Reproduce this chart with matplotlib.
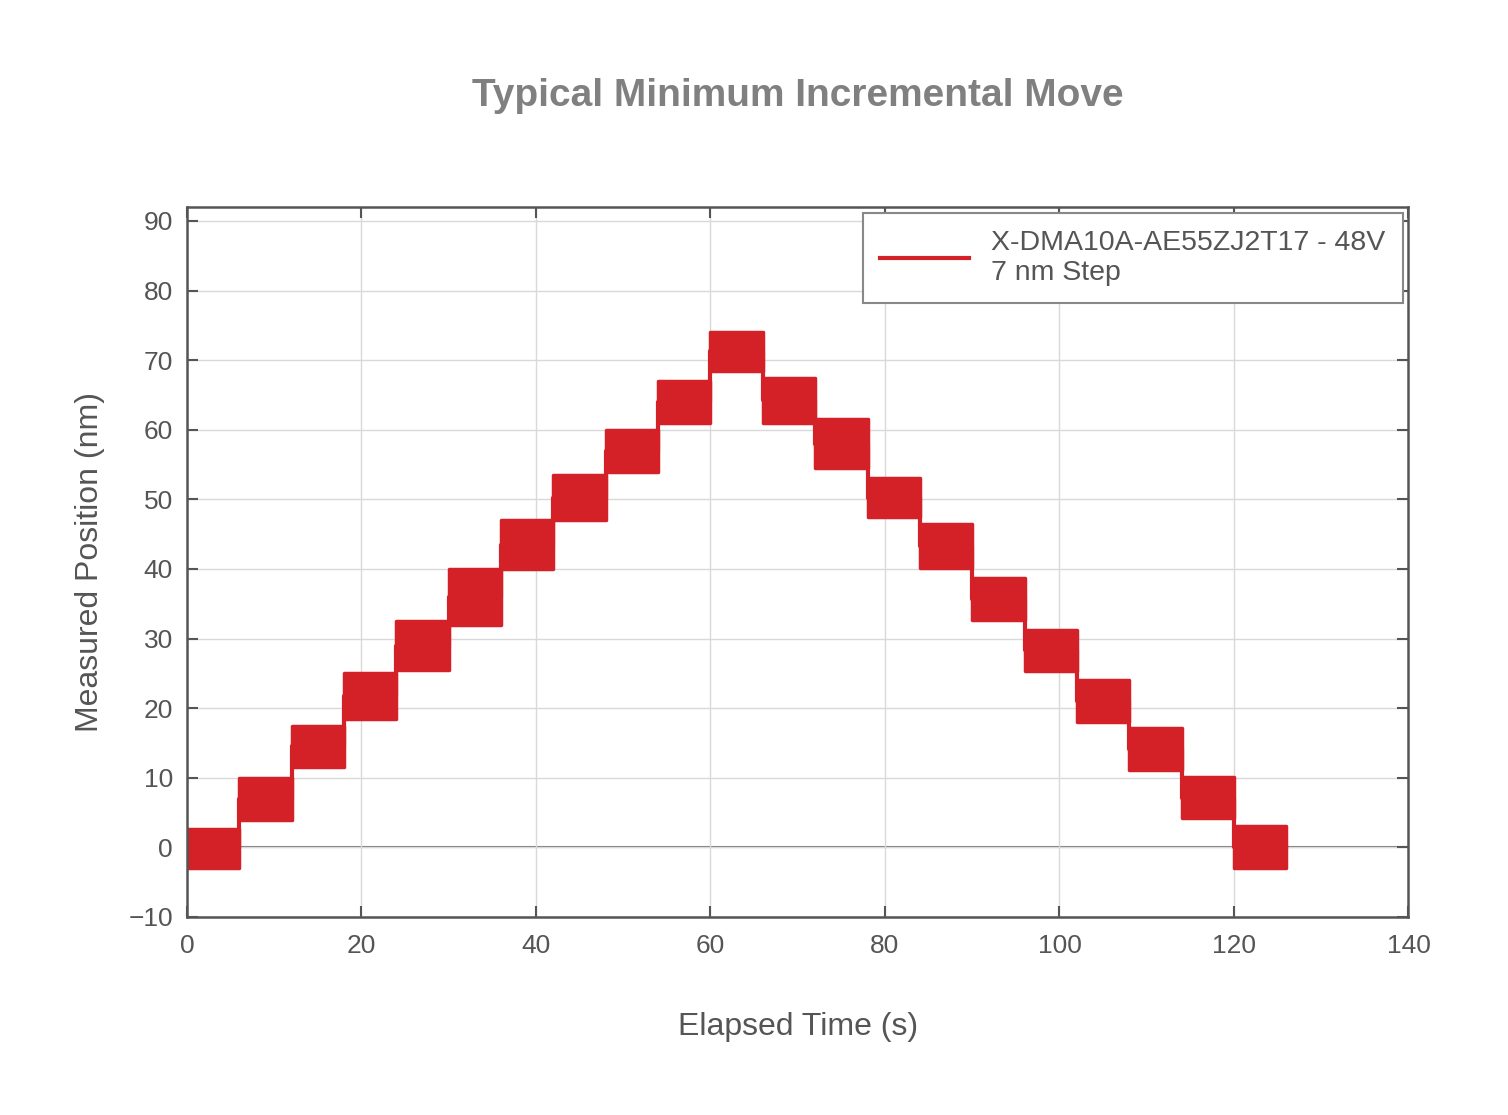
import matplotlib.pyplot as plt
from matplotlib.lines import Line2D

plt.rcParams['font.family'] = ['Liberation Sans', 'DejaVu Sans']

# step start times (s); each step lasts 6 s
step_start = [0, 6, 12, 18, 24, 30, 36, 42, 48, 54, 60,
              66, 72, 78, 84, 90, 96, 102, 108, 114, 120]
step_len = 6
# noise band of each plateau (nm)
band_low = [-3.0, 4.0, 11.5, 18.5, 25.5, 32.0, 40.0, 47.0, 54.0, 61.0, 68.5,
            61.0, 54.5, 47.5, 40.2, 32.7, 25.3, 18.0, 11.1, 4.2, -3.0]
band_high = [2.7, 10.0, 17.5, 25.0, 32.5, 40.0, 47.0, 53.5, 60.0, 67.0, 74.0,
             67.5, 61.5, 53.0, 46.4, 38.7, 31.3, 24.0, 17.1, 10.1, 3.0]

legend_label = 'X-DMA10A-AE55ZJ2T17 - 48V\n7 nm Step'
red = '#d42027'
grey = '#555555'

fig = plt.figure(figsize=(15.08, 11.15), dpi=100)
ax = fig.add_axes([0.124, 0.1776, 0.810, 0.6367])

# plateaus drawn as filled noise bands
for t0, lo, hi in zip(step_start, band_low, band_high):
    ax.fill_between([t0, t0 + step_len], [lo, lo], [hi, hi],
                    color=red, linewidth=2.5, edgecolor=red, joinstyle='round')

# vertical transitions between plateaus
mid = [(lo + hi) / 2 for lo, hi in zip(band_low, band_high)]
ax.step(step_start + [step_start[-1] + step_len], mid + [mid[-1]],
        where='post', color=red, linewidth=3)

ax.axhline(0, color='#777777', linewidth=1.5, zorder=0.5)

ax.set_xlim(0, 140)
ax.set_ylim(-10, 92)
ax.set_xticks(range(0, 141, 20))
ax.set_yticks(range(-10, 91, 10))
ax.set_yticklabels(['\u221210'] + [str(v) for v in range(0, 91, 10)])
ax.grid(True, color='#d9d9d9', linewidth=1)
ax.set_axisbelow(True)

ax.tick_params(direction='in', length=8, width=1.5, colors=grey,
               labelsize=19, top=True, right=True, pad=8)
ax.tick_params(axis='x', pad=12)
ax.tick_params(axis='y', pad=10)
for s in ax.spines.values():
    s.set_color(grey)
    s.set_linewidth(1.8)

ax.set_xlabel('Elapsed Time (s)', fontsize=23, color=grey, labelpad=39)
ax.set_ylabel('Measured Position (nm)', fontsize=23, color=grey, labelpad=17)
fig.text(0.529, 0.914, 'Typical Minimum Incremental Move', ha='center', va='center',
         fontsize=28, fontweight='bold', color='#808080')

handle = Line2D([], [], color=red, linewidth=3)
leg = ax.legend([handle], [legend_label], loc='upper right', fontsize=20.5,
                frameon=True, fancybox=False, framealpha=1, edgecolor='#888888',
                handlelength=3.1, handletextpad=0.8, borderpad=0.6,
                borderaxespad=0.2, labelcolor=grey)
leg.get_frame().set_linewidth(1.5)

fig.savefig('out.png', dpi=100)
